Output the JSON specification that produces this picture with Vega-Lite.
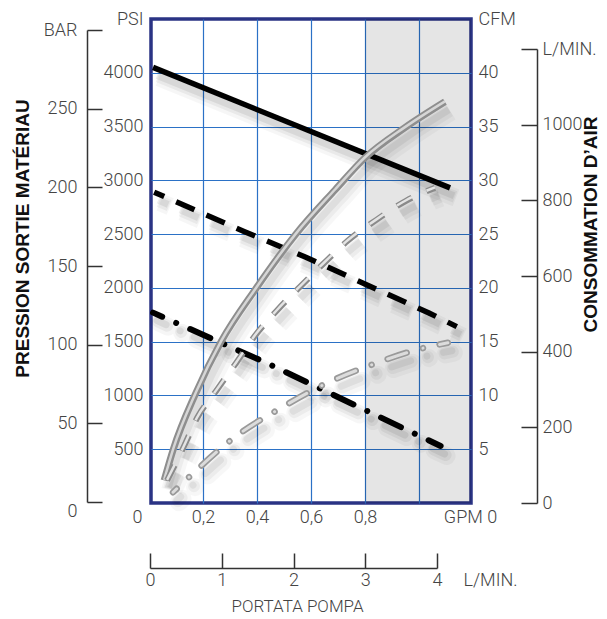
{
  "$schema": "https://vega.github.io/schema/vega-lite/v6.json",
  "width": 320,
  "height": 484,
  "autosize": {"type": "none"},
  "padding": {"left": 151, "top": 19, "right": 136, "bottom": 116},
  "background": "white",
  "config": {
    "view": {"stroke": "#2a3384", "strokeWidth": 3.5},
    "axis": {
      "labelFont": "Roboto", "labelFontWeight": 300, "labelFontSize": 18, "labelColor": "#444",
      "titleFont": "Liberation Sans", "titleFontWeight": "bold", "titleFontSize": 19, "titleColor": "#111",
      "domainColor": "#333", "tickColor": "#333", "domainWidth": 1.5, "tickWidth": 1.5,
      "labelFlush": false, "labelOverlap": false, "gridColor": "#2b71c6", "gridWidth": 1.2, "gridOpacity": 1
    }
  },
  "datasets": {
    "shade": [{"from": 0.8, "to": 1.1926}],
    "psi": [
      {"s": "P1", "gpm": 0.015, "psi": 4050}, {"s": "P1", "gpm": 1.115, "psi": 2930},
      {"s": "P2", "gpm": 0.019, "psi": 2890}, {"s": "P2", "gpm": 0.352, "psi": 2525}, {"s": "P2", "gpm": 0.581, "psi": 2285}, {"s": "P2", "gpm": 1.037, "psi": 1767}, {"s": "P2", "gpm": 1.14, "psi": 1640},
      {"s": "P3", "gpm": 0.015, "psi": 1770}, {"s": "P3", "gpm": 0.437, "psi": 1300}, {"s": "P3", "gpm": 0.8, "psi": 865}, {"s": "P3", "gpm": 1.08, "psi": 530}
    ],
    "cfm": [
      {"s": "A1", "gpm": 0.056, "cfm": 2.1}, {"s": "A1", "gpm": 0.09, "cfm": 5.0}, {"s": "A1", "gpm": 0.173, "cfm": 10.2}, {"s": "A1", "gpm": 0.267, "cfm": 15.0}, {"s": "A1", "gpm": 0.395, "cfm": 19.9}, {"s": "A1", "gpm": 0.544, "cfm": 25.0}, {"s": "A1", "gpm": 0.689, "cfm": 29.1}, {"s": "A1", "gpm": 0.8, "cfm": 32.1}, {"s": "A1", "gpm": 0.948, "cfm": 34.9}, {"s": "A1", "gpm": 1.096, "cfm": 37.3},
      {"s": "A2", "gpm": 0.067, "cfm": 2.1}, {"s": "A2", "gpm": 0.13, "cfm": 5.3}, {"s": "A2", "gpm": 0.178, "cfm": 7.9}, {"s": "A2", "gpm": 0.248, "cfm": 10.4}, {"s": "A2", "gpm": 0.322, "cfm": 13.0}, {"s": "A2", "gpm": 0.4, "cfm": 15.8}, {"s": "A2", "gpm": 0.474, "cfm": 17.9}, {"s": "A2", "gpm": 0.559, "cfm": 20.1}, {"s": "A2", "gpm": 0.644, "cfm": 22.2}, {"s": "A2", "gpm": 0.737, "cfm": 24.4}, {"s": "A2", "gpm": 0.841, "cfm": 26.3}, {"s": "A2", "gpm": 0.952, "cfm": 28.1}, {"s": "A2", "gpm": 1.059, "cfm": 29.3},
      {"s": "A3", "gpm": 0.089, "cfm": 1.0}, {"s": "A3", "gpm": 0.148, "cfm": 2.4}, {"s": "A3", "gpm": 0.311, "cfm": 6.0}, {"s": "A3", "gpm": 0.493, "cfm": 8.9}, {"s": "A3", "gpm": 0.663, "cfm": 11.2}, {"s": "A3", "gpm": 0.83, "cfm": 12.9}, {"s": "A3", "gpm": 1.015, "cfm": 14.4}, {"s": "A3", "gpm": 1.107, "cfm": 14.9}
    ],
    "bar": [{"bar": 0}, {"bar": 300}],
    "lmin": [{"lmin": 0}, {"lmin": 1200}],
    "pump": [{"lpm": 0}, {"lpm": 4}]
  },
  "resolve": {"scale": {"x": "independent", "y": "independent"}},
  "layer": [
    {
      "data": {"name": "shade"},
      "mark": {"type": "rect", "fill": "#000", "fillOpacity": 0.1},
      "encoding": {
        "x": {"field": "from", "type": "quantitative", "scale": {"domain": [0.0074, 1.1926], "nice": false, "zero": false},
          "axis": {"orient": "bottom", "values": [0.0075, 0.2, 0.4, 0.6, 0.8, 1], "grid": true, "ticks": false, "domain": false,
            "gridColor": {"condition": {"test": "datum.value < 0.1", "value": "transparent"}, "value": "#2b71c6"},
            "labelExpr": "datum.value < 0.1 ? '0' : datum.value > 0.9 ? '' : replace(format(datum.value, '.1f'), '.', ',')",
            "labelPadding": 5,
            "labelOffset": {"condition": {"test": "datum.value < 0.1", "value": -14}, "value": 0},
            "title": "GPM 0", "titleFont": "Roboto", "titleFontWeight": 300, "titleFontSize": 18, "titleColor": "#444",
            "titleX": 319, "titleY": 14, "titleBaseline": "middle", "titleAlign": "center"}},
        "x2": {"field": "to"}
      }
    },
    {
      "data": {"name": "psi"},
      "transform": [{"filter": "datum.s == 'P1'"}],
      "encoding": {
        "x": {"field": "gpm", "type": "quantitative", "scale": {"domain": [0.0074, 1.1926], "nice": false, "zero": false}, "axis": null},
        "y": {"field": "psi", "type": "quantitative", "scale": {"domain": [0, 4500], "nice": false},
          "axis": {"orient": "left", "values": [500, 1000, 1500, 2000, 2500, 3000, 3500, 4000, 4500], "grid": true, "ticks": false, "domain": false,
            "gridColor": {"condition": {"test": "datum.value > 4400", "value": "transparent"}, "value": "#2b71c6"},
            "labelPadding": 8, "labelExpr": "datum.value > 4400 ? 'PSI' : format(datum.value, 'd')", "title": null}}
      },
      "layer": [
        {"mark": {"type": "line", "color": "#000", "strokeWidth": 18, "opacity": 0.035, "xOffset": 6, "yOffset": 10}},
        {"mark": {"type": "line", "color": "#000", "strokeWidth": 12, "opacity": 0.05, "xOffset": 5, "yOffset": 9}},
        {"mark": {"type": "line", "color": "#000", "strokeWidth": 7, "opacity": 0.07, "xOffset": 4, "yOffset": 8}},
        {"mark": {"type": "line", "color": "#000", "strokeWidth": 5.5}}
      ]
    },
    {
      "data": {"name": "psi"},
      "transform": [{"filter": "datum.s == 'P2'"}],
      "encoding": {
        "x": {"field": "gpm", "type": "quantitative", "scale": {"domain": [0.0074, 1.1926], "nice": false, "zero": false}, "axis": null},
        "y": {"field": "psi", "type": "quantitative", "scale": {"domain": [0, 4500], "nice": false}, "axis": null}
      },
      "layer": [
        {"mark": {"type": "line", "color": "#000", "strokeWidth": 18, "opacity": 0.035, "xOffset": 6, "yOffset": 10, "strokeDash": [20, 13], "strokeDashOffset": 9}},
        {"mark": {"type": "line", "color": "#000", "strokeWidth": 12, "opacity": 0.05, "xOffset": 5, "yOffset": 9, "strokeDash": [20, 13], "strokeDashOffset": 9}},
        {"mark": {"type": "line", "color": "#000", "strokeWidth": 7, "opacity": 0.07, "xOffset": 4, "yOffset": 8, "strokeDash": [20, 13], "strokeDashOffset": 9}},
        {"mark": {"type": "line", "color": "#000", "strokeWidth": 5.5, "strokeDash": [20, 13], "strokeDashOffset": 9}}
      ]
    },
    {
      "data": {"name": "psi"},
      "transform": [{"filter": "datum.s == 'P3'"}],
      "encoding": {
        "x": {"field": "gpm", "type": "quantitative", "scale": {"domain": [0.0074, 1.1926], "nice": false, "zero": false}, "axis": null},
        "y": {"field": "psi", "type": "quantitative", "scale": {"domain": [0, 4500], "nice": false}, "axis": null}
      },
      "layer": [
        {"mark": {"type": "line", "color": "#000", "strokeWidth": 18, "opacity": 0.035, "xOffset": 6, "yOffset": 10, "strokeCap": "round", "strokeDash": [22, 15.3, 0.01, 15.3], "strokeDashOffset": 12}},
        {"mark": {"type": "line", "color": "#000", "strokeWidth": 12, "opacity": 0.05, "xOffset": 5, "yOffset": 9, "strokeCap": "round", "strokeDash": [22, 15.3, 0.01, 15.3], "strokeDashOffset": 12}},
        {"mark": {"type": "line", "color": "#000", "strokeWidth": 7, "opacity": 0.07, "xOffset": 4, "yOffset": 8, "strokeCap": "round", "strokeDash": [22, 15.3, 0.01, 15.3], "strokeDashOffset": 12}},
        {"mark": {"type": "line", "color": "#000", "strokeWidth": 6, "strokeCap": "round", "strokeDash": [22, 15.3, 0.01, 15.3], "strokeDashOffset": 12}}
      ]
    },
    {
      "data": {"name": "cfm"},
      "transform": [{"filter": "datum.s == 'A1'"}],
      "encoding": {
        "x": {"field": "gpm", "type": "quantitative", "scale": {"domain": [0.0074, 1.1926], "nice": false, "zero": false}, "axis": null},
        "y": {"field": "cfm", "type": "quantitative", "scale": {"domain": [0, 45], "nice": false},
          "axis": {"orient": "right", "values": [5, 10, 15, 20, 25, 30, 35, 40, 45], "grid": false, "ticks": false, "domain": false,
            "labelPadding": 7, "labelExpr": "datum.value > 44 ? 'CFM' : format(datum.value, 'd')", "title": null}}
      },
      "layer": [
        {"mark": {"type": "line", "interpolate": "monotone", "color": "#000", "strokeWidth": 18, "opacity": 0.03, "xOffset": 6, "yOffset": 10}},
        {"mark": {"type": "line", "interpolate": "monotone", "color": "#000", "strokeWidth": 12, "opacity": 0.045, "xOffset": 5, "yOffset": 9}},
        {"mark": {"type": "line", "interpolate": "monotone", "color": "#000", "strokeWidth": 7, "opacity": 0.06, "xOffset": 4, "yOffset": 8}},
        {"mark": {"type": "line", "interpolate": "monotone", "color": "#8e8e8e", "strokeWidth": 7}},
        {"mark": {"type": "line", "interpolate": "monotone", "color": "#d6d6d6", "strokeWidth": 2.5, "yOffset": -0.5}}
      ]
    },
    {
      "data": {"name": "cfm"},
      "transform": [{"filter": "datum.s == 'A2'"}],
      "encoding": {
        "x": {"field": "gpm", "type": "quantitative", "scale": {"domain": [0.0074, 1.1926], "nice": false, "zero": false}, "axis": null},
        "y": {"field": "cfm", "type": "quantitative", "scale": {"domain": [0, 45], "nice": false}, "axis": null}
      },
      "layer": [
        {"mark": {"type": "line", "interpolate": "monotone", "color": "#000", "strokeWidth": 18, "opacity": 0.03, "xOffset": 6, "yOffset": 10, "strokeDash": [17, 16]}},
        {"mark": {"type": "line", "interpolate": "monotone", "color": "#000", "strokeWidth": 12, "opacity": 0.045, "xOffset": 5, "yOffset": 9, "strokeDash": [17, 16]}},
        {"mark": {"type": "line", "interpolate": "monotone", "color": "#000", "strokeWidth": 7, "opacity": 0.06, "xOffset": 4, "yOffset": 8, "strokeDash": [17, 16]}},
        {"mark": {"type": "line", "interpolate": "monotone", "color": "#8a8a8a", "strokeWidth": 6, "strokeDash": [17, 16]}},
        {"mark": {"type": "line", "interpolate": "monotone", "color": "#e4e4e4", "strokeWidth": 2.5, "yOffset": -0.5, "strokeDash": [17, 16]}}
      ]
    },
    {
      "data": {"name": "cfm"},
      "transform": [{"filter": "datum.s == 'A3'"}],
      "encoding": {
        "x": {"field": "gpm", "type": "quantitative", "scale": {"domain": [0.0074, 1.1926], "nice": false, "zero": false}, "axis": null},
        "y": {"field": "cfm", "type": "quantitative", "scale": {"domain": [0, 45], "nice": false}, "axis": null}
      },
      "layer": [
        {"mark": {"type": "line", "interpolate": "monotone", "color": "#000", "strokeWidth": 18, "opacity": 0.03, "xOffset": 6, "yOffset": 10, "strokeCap": "round", "strokeDash": [20, 17, 0.01, 17], "strokeDashOffset": 15}},
        {"mark": {"type": "line", "interpolate": "monotone", "color": "#000", "strokeWidth": 12, "opacity": 0.045, "xOffset": 5, "yOffset": 9, "strokeCap": "round", "strokeDash": [20, 17, 0.01, 17], "strokeDashOffset": 15}},
        {"mark": {"type": "line", "interpolate": "monotone", "color": "#000", "strokeWidth": 7, "opacity": 0.06, "xOffset": 4, "yOffset": 8, "strokeCap": "round", "strokeDash": [20, 17, 0.01, 17], "strokeDashOffset": 15}},
        {"mark": {"type": "line", "interpolate": "monotone", "color": "#9a9a9a", "strokeWidth": 6.5, "strokeCap": "round", "strokeDash": [20, 17, 0.01, 17], "strokeDashOffset": 15}},
        {"mark": {"type": "line", "interpolate": "monotone", "color": "#dcdcdc", "strokeWidth": 3, "strokeCap": "round", "strokeDash": [20, 17, 0.01, 17], "strokeDashOffset": 15}}
      ]
    },
    {
      "data": {"name": "bar"},
      "mark": {"type": "point", "opacity": 0},
      "encoding": {
        "y": {"field": "bar", "type": "quantitative", "scale": {"domain": [0, 300], "range": [483, 11], "nice": false},
          "axis": {"orient": "left", "offset": 64, "values": [0, 50, 100, 150, 200, 250, 300], "tickSize": -15, "labelPadding": 25, "grid": false,
            "labelBaseline": {"condition": {"test": "datum.value == 0", "value": "top"}, "value": "middle"},
            "labelExpr": "datum.value == 300 ? 'BAR' : format(datum.value, 'd')",
            "title": "PRESSION SORTIE MATÉRIAU", "titleAngle": 270, "titleX": -65, "titleY": 219, "titleAlign": "center", "titleBaseline": "middle"}}
      }
    },
    {
      "data": {"name": "lmin"},
      "mark": {"type": "point", "opacity": 0},
      "encoding": {
        "y": {"field": "lmin", "type": "quantitative", "scale": {"domain": [0, 1200], "range": [484, 30], "nice": false},
          "axis": {"orient": "right", "offset": 66, "values": [0, 200, 400, 600, 800, 1000, 1200], "tickSize": -16, "labelPadding": 21, "grid": false,
            "labelExpr": "datum.value == 1200 ? 'L/MIN.' : format(datum.value, 'd')",
            "title": "CONSOMMATION D’AIR", "titleAngle": 270, "titleX": 53, "titleY": 205, "titleAlign": "center", "titleBaseline": "middle"}}
      }
    },
    {
      "data": {"name": "pump"},
      "mark": {"type": "point", "opacity": 0},
      "encoding": {
        "x": {"field": "lpm", "type": "quantitative", "scale": {"domain": [0, 4], "range": [-1, 286], "nice": false},
          "axis": {"orient": "bottom", "offset": 65, "values": [0, 1, 2, 3, 4], "tickSize": -15, "labelPadding": 18, "grid": false,
            "labelExpr": "format(datum.value, 'd')",
            "title": "L/MIN.", "titleFont": "Roboto", "titleFontWeight": 300, "titleFontSize": 18, "titleColor": "#444",
            "titleX": 339, "titleY": 12, "titleBaseline": "middle", "titleAlign": "center"}}
      }
    },
    {
      "data": {"name": "pump"},
      "mark": {"type": "point", "opacity": 0},
      "encoding": {
        "x": {"field": "lpm", "type": "quantitative", "scale": {"domain": [0, 4], "range": [-1, 286], "nice": false},
          "axis": {"orient": "bottom", "offset": 65, "domain": false, "ticks": false, "labels": false, "grid": false,
            "title": "PORTATA POMPA", "titleFont": "Roboto", "titleFontWeight": 300, "titleFontSize": 17, "titleColor": "#444",
            "titleX": 146, "titleY": 38, "titleBaseline": "middle", "titleAlign": "center"}}
      }
    }
  ]
}
